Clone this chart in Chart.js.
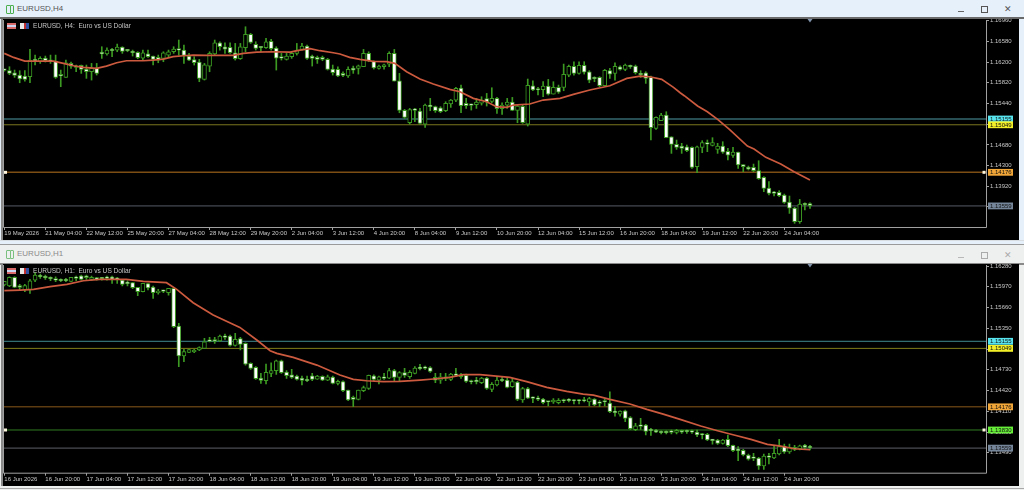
<!DOCTYPE html>
<html><head><meta charset="utf-8">
<script src="https://cdn.jsdelivr.net/npm/chart.js@4"></script>
<style>
html,body{margin:0;padding:0;width:1024px;height:490px;overflow:hidden;background:#e6f0fb;font-family:"Liberation Sans",sans-serif}
.abs{position:absolute}
canvas{position:absolute;display:block;background:#000}
.ttl{position:absolute;font-size:8px;line-height:10px}
.info{position:absolute;font-size:6.6px;line-height:8px;color:#c4c4c4;white-space:pre}
</style></head><body>
<div class="abs" style="left:0;top:0;width:1024px;height:244px;background:#e6f0fb"></div>
<div class="abs" style="left:0;top:17px;width:1024px;height:2px;background:#6a6a6a"></div>
<div class="abs" style="left:0;top:240px;width:1024px;height:1px;background:#d8dde2"></div>
<div class="abs" style="left:0;top:244px;width:1024px;height:246px;background:#eeefef;border-top:1px solid #9a9a9a;box-sizing:border-box"></div>
<div class="abs" style="left:0;top:263px;width:1024px;height:1.5px;background:#8a8a8a"></div>
<div class="abs" style="left:0;top:488px;width:1024px;height:1px;background:#a8a8a8"></div>
<div class="abs" style="left:1px;top:19px;width:2px;height:221px;background:#8a8a8a"></div>
<div class="abs" style="left:1px;top:264px;width:2px;height:222px;background:#8a8a8a"></div>

<canvas id="c1" width="1016" height="221" style="left:3px;top:19px;width:1016px;height:221px"></canvas>
<canvas id="c2" width="1016" height="222" style="left:3px;top:264px;width:1016px;height:222px"></canvas>

<div class="abs" style="left:6px;top:5px;width:2.5px;height:7px;border:1px solid #4cb050;border-radius:1px"></div>
<div class="abs" style="left:10px;top:5px;width:2px;height:7px;border:1px solid #4cb050;border-radius:1px"></div>
<div class="ttl" style="left:17px;top:4px;color:#555">EURUSD,H4</div>
<div class="abs" style="left:6px;top:250px;width:2.5px;height:7px;border:1px solid #7cc080;border-radius:1px"></div>
<div class="abs" style="left:10px;top:250px;width:2px;height:7px;border:1px solid #7cc080;border-radius:1px"></div>
<div class="ttl" style="left:17px;top:249px;color:#8a8a8a">EURUSD,H1</div>

<div class="abs" style="left:958px;top:11px;width:6px;height:1px;background:#666"></div>
<div class="abs" style="left:981px;top:6px;width:5px;height:5px;border:1px solid #555"></div>
<div class="ttl" style="left:1004px;top:4px;color:#555;font-size:9px">✕</div>
<div class="abs" style="left:958px;top:257px;width:6px;height:1px;background:#b8b8b8"></div>
<div class="abs" style="left:981px;top:252px;width:5px;height:5px;border:1px solid #aaa"></div>
<div class="ttl" style="left:1004px;top:250px;color:#aaa;font-size:9px">✕</div>

<div class="abs" style="left:7px;top:23px;width:9px;height:6px;background:linear-gradient(#d86a6a 0 33%,#c8d4f0 33% 66%,#d86a6a 66%)"></div>
<div class="abs" style="left:20px;top:23px;width:9px;height:6px;background:linear-gradient(90deg,#e8e8e8 0 40%,#c03030 40% 70%,#3050a0 70%)"></div>
<div class="info" style="left:33px;top:22px">EURUSD, H4:  Euro vs US Dollar</div>
<div class="abs" style="left:7px;top:268px;width:9px;height:6px;background:linear-gradient(#d86a6a 0 33%,#c8d4f0 33% 66%,#d86a6a 66%)"></div>
<div class="abs" style="left:20px;top:268px;width:9px;height:6px;background:linear-gradient(90deg,#e8e8e8 0 40%,#c03030 40% 70%,#3050a0 70%)"></div>
<div class="info" style="left:33px;top:267px">EURUSD, H1:  Euro vs US Dollar</div>

<script>
// ---- H4 window ----
const h4TickLabels=["19 May 2026","21 May 04:00","22 May 12:00","25 May 20:00","27 May 04:00","28 May 12:00","29 May 20:00","2 Jun 04:00","3 Jun 12:00","4 Jun 20:00","8 Jun 04:00","9 Jun 12:00","10 Jun 20:00","12 Jun 04:00","15 Jun 12:00","16 Jun 20:00","18 Jun 04:00","19 Jun 12:00","22 Jun 20:00","24 Jun 04:00"];
const h4PriceTicks=[1.1696,1.1658,1.162,1.1582,1.1544,1.1506,1.1468,1.143,1.1392,1.1354];
const h4Levels=[1.15155,1.15049,1.14176,1.13559];
const h4High=[1.16072,1.16115,1.16054,1.16042,1.16042,1.16433,1.16329,1.16299,1.16311,1.16329,1.16329,1.16054,1.16237,1.16201,1.16146,1.16146,1.16146,1.16176,1.16176,1.16482,1.16464,1.16452,1.16531,1.16482,1.16433,1.16421,1.16390,1.16421,1.16421,1.16311,1.16329,1.16390,1.16421,1.16482,1.16605,1.16513,1.16360,1.16299,1.16250,1.16176,1.16390,1.16605,1.16574,1.16556,1.16556,1.16543,1.16543,1.16849,1.16727,1.16574,1.16482,1.16635,1.16617,1.16482,1.16360,1.16360,1.16390,1.16543,1.16543,1.16513,1.16329,1.16311,1.16311,1.16268,1.16146,1.16115,1.16023,1.16115,1.16127,1.16146,1.16433,1.16390,1.16225,1.16146,1.16164,1.16390,1.16433,1.15993,1.15332,1.15350,1.15350,1.15350,1.15430,1.15534,1.15393,1.15381,1.15472,1.15515,1.15736,1.15778,1.15534,1.15430,1.15534,1.15564,1.15625,1.15729,1.15552,1.15454,1.15534,1.15552,1.15411,1.15411,1.15889,1.15858,1.15736,1.15840,1.15882,1.15840,1.15778,1.16164,1.16146,1.16207,1.16207,1.16207,1.16042,1.15931,1.15931,1.16066,1.16084,1.16188,1.16133,1.16164,1.16146,1.16146,1.16042,1.16023,1.15944,1.15197,1.15258,1.15289,1.14830,1.14769,1.14708,1.14677,1.14646,1.14659,1.14757,1.14769,1.14812,1.14708,1.14738,1.14616,1.14634,1.14548,1.14316,1.14291,1.14328,1.14389,1.14096,1.14004,1.13826,1.13839,1.13777,1.13741,1.13533,1.13679,1.13618,1.13618];
const h4Open=[1.16060,1.16042,1.16005,1.15962,1.15944,1.15931,1.16256,1.16207,1.16274,1.16237,1.16219,1.15974,1.15919,1.16176,1.16133,1.16139,1.16072,1.16023,1.16097,1.16384,1.16348,1.16433,1.16421,1.16476,1.16421,1.16397,1.16378,1.16274,1.16354,1.16311,1.16286,1.16268,1.16329,1.16390,1.16439,1.16421,1.16311,1.16244,1.16201,1.15882,1.16127,1.16348,1.16556,1.16482,1.16470,1.16372,1.16262,1.16464,1.16709,1.16525,1.16476,1.16464,1.16580,1.16458,1.16299,1.16250,1.16299,1.16360,1.16433,1.16494,1.16311,1.16286,1.16286,1.16250,1.16072,1.16066,1.15993,1.15944,1.16091,1.16084,1.16115,1.16360,1.16213,1.16084,1.16115,1.16164,1.16360,1.15858,1.15313,1.15087,1.15332,1.15301,1.15062,1.15405,1.15381,1.15362,1.15307,1.15430,1.15503,1.15723,1.15442,1.15423,1.15417,1.15448,1.15528,1.15478,1.15534,1.15344,1.15411,1.15466,1.15313,1.15387,1.15062,1.15766,1.15711,1.15693,1.15760,1.15613,1.15736,1.15736,1.15962,1.16121,1.15993,1.16139,1.16023,1.15919,1.15919,1.15766,1.16042,1.15993,1.16115,1.16066,1.16139,1.16127,1.15980,1.16005,1.15919,1.14983,1.15124,1.15228,1.14830,1.14689,1.14659,1.14646,1.14634,1.14279,1.14634,1.14720,1.14671,1.14597,1.14659,1.14561,1.14487,1.14548,1.14316,1.14273,1.14267,1.14206,1.14083,1.13887,1.13814,1.13808,1.13759,1.13630,1.13520,1.13269,1.13606,1.13600];
const h4Close=[1.16048,1.15993,1.15956,1.15889,1.15882,1.16237,1.16219,1.16268,1.16225,1.16213,1.15919,1.15944,1.16188,1.16127,1.16103,1.16066,1.16023,1.16084,1.15993,1.16348,1.16421,1.16409,1.16476,1.16397,1.16409,1.16372,1.16280,1.16372,1.16299,1.16250,1.16237,1.16372,1.16390,1.16439,1.16421,1.16323,1.16237,1.16188,1.15901,1.16152,1.16360,1.16556,1.16482,1.16439,1.16372,1.16262,1.16482,1.16709,1.16562,1.16452,1.16464,1.16574,1.16446,1.16274,1.16274,1.16311,1.16360,1.16421,1.16494,1.16268,1.16268,1.16250,1.16250,1.16066,1.16005,1.15944,1.15956,1.16066,1.16054,1.16133,1.16360,1.16225,1.16091,1.16127,1.16152,1.16360,1.15852,1.15313,1.15185,1.15326,1.15313,1.15075,1.15411,1.15381,1.15307,1.15289,1.15442,1.15503,1.15717,1.15399,1.15399,1.15405,1.15466,1.15503,1.15466,1.15534,1.15344,1.15411,1.15466,1.15313,1.15393,1.15087,1.15772,1.15687,1.15687,1.15760,1.15613,1.15736,1.15650,1.15974,1.16121,1.15993,1.16139,1.16017,1.15870,1.15895,1.15766,1.16048,1.15980,1.16121,1.16066,1.16146,1.16115,1.16005,1.15968,1.15901,1.14995,1.15185,1.15228,1.14811,1.14689,1.14634,1.14616,1.14573,1.14267,1.14646,1.14720,1.14695,1.14720,1.14659,1.14548,1.14493,1.14548,1.14310,1.14279,1.14236,1.14206,1.14059,1.13881,1.13790,1.13790,1.13747,1.13624,1.13520,1.13269,1.13594,1.13581,1.13563];
const h4Low=[1.16035,1.15968,1.15919,1.15821,1.15852,1.15821,1.16146,1.16176,1.16201,1.16176,1.15901,1.15748,1.15919,1.16084,1.16023,1.15993,1.15901,1.15870,1.15962,1.16268,1.16329,1.16299,1.16390,1.16360,1.16390,1.16311,1.16262,1.16237,1.16286,1.16146,1.16188,1.16207,1.16286,1.16360,1.16329,1.16176,1.16225,1.16146,1.15840,1.15870,1.16023,1.16329,1.16421,1.16360,1.16360,1.16237,1.16250,1.16390,1.16543,1.16421,1.16390,1.16452,1.16421,1.16054,1.16237,1.16237,1.16268,1.16329,1.16421,1.16250,1.16127,1.16176,1.16225,1.16054,1.15962,1.15931,1.15931,1.15919,1.15993,1.15980,1.16115,1.16207,1.16072,1.16072,1.16072,1.16115,1.15852,1.15270,1.15166,1.15062,1.15105,1.15062,1.15001,1.15307,1.15277,1.15270,1.15289,1.15368,1.15472,1.15270,1.15350,1.15319,1.15350,1.15411,1.15393,1.15454,1.15258,1.15240,1.15350,1.15307,1.15087,1.15075,1.15026,1.15674,1.15595,1.15564,1.15595,1.15613,1.15625,1.15674,1.15931,1.15962,1.15980,1.15980,1.15821,1.15840,1.15748,1.15760,1.15901,1.15870,1.16054,1.16042,1.16084,1.15980,1.15919,1.15809,1.14769,1.14964,1.15124,1.14811,1.14524,1.14597,1.14524,1.14555,1.14249,1.14169,1.14536,1.14555,1.14659,1.14524,1.14524,1.14402,1.14451,1.14249,1.14187,1.14218,1.14187,1.14047,1.13820,1.13759,1.13741,1.13728,1.13606,1.13422,1.13239,1.13239,1.13484,1.13514];
const h4MaIndex=[0,1.8,4,7.6,9.6,11.5,13.5,15.4,18,19.9,21.9,23.8,27.1,29,31,32.9,34.9,36.8,39.4,42,44.6,46.6,49.2,52.4,55.7,57.6,59.6,61.5,64.1,65.4,67.3,69.3,71.9,74.5,76.1,78.4,81,83.6,86.8,88.8,91.4,94,95.9,97.9,99.2,102.4,105,108.3,110.9,114.1,118,121.3,123.9,125.8,128.1,130.4,131.7,132.5,135.1,137,139,141.3,144.8,146.1,148.4,151.3,153.9,157];
const h4MaValue=[1.16360,1.16286,1.16219,1.16219,1.16219,1.16176,1.16133,1.16103,1.16084,1.16127,1.16188,1.16225,1.16225,1.16237,1.16256,1.16299,1.16317,1.16329,1.16323,1.16323,1.16323,1.16360,1.16384,1.16390,1.16384,1.16421,1.16446,1.16409,1.16372,1.16348,1.16286,1.16250,1.16213,1.16207,1.16176,1.16023,1.15889,1.15797,1.15699,1.15656,1.15534,1.15472,1.15381,1.15368,1.15411,1.15430,1.15503,1.15534,1.15607,1.15687,1.15766,1.15901,1.15944,1.15931,1.15882,1.15736,1.15638,1.15583,1.15393,1.15289,1.15148,1.14964,1.14659,1.14604,1.14451,1.14328,1.14187,1.14034];

// ---- H1 window ----
const h1TickLabels=["16 Jun 2026","16 Jun 20:00","17 Jun 04:00","17 Jun 12:00","17 Jun 20:00","18 Jun 04:00","18 Jun 12:00","18 Jun 20:00","19 Jun 04:00","19 Jun 12:00","19 Jun 20:00","22 Jun 04:00","22 Jun 12:00","22 Jun 20:00","23 Jun 04:00","23 Jun 12:00","23 Jun 20:00","24 Jun 04:00","24 Jun 12:00","24 Jun 20:00"];
const h1PriceTicks=[1.1628,1.1597,1.1566,1.1535,1.1504,1.1473,1.1442,1.1411,1.138,1.1349];
const h1Levels=[1.15155,1.15049,1.14176,1.1383,1.13559];
const h1High=[1.16050,1.16120,1.16120,1.16006,1.16006,1.16080,1.16180,1.16160,1.16145,1.16120,1.16120,1.16090,1.16095,1.16110,1.16130,1.16145,1.16145,1.16130,1.16110,1.16110,1.16130,1.16130,1.16110,1.16080,1.16060,1.16031,1.15961,1.16021,1.16021,1.15981,1.15931,1.15921,1.15946,1.15946,1.15423,1.15035,1.15035,1.15035,1.15074,1.15199,1.15214,1.15214,1.15249,1.15264,1.15249,1.15274,1.15214,1.15134,1.14835,1.14776,1.14676,1.14815,1.14835,1.14875,1.14875,1.14716,1.14736,1.14651,1.14636,1.14636,1.14676,1.14646,1.14641,1.14651,1.14636,1.14576,1.14566,1.14427,1.14337,1.14427,1.14487,1.14651,1.14656,1.14636,1.14676,1.14751,1.14736,1.14701,1.14751,1.14716,1.14776,1.14810,1.14786,1.14776,1.14676,1.14676,1.14676,1.14676,1.14751,1.14676,1.14666,1.14576,1.14616,1.14616,1.14616,1.14537,1.14616,1.14616,1.14601,1.14601,1.14557,1.14467,1.14467,1.14327,1.14337,1.14302,1.14258,1.14298,1.14298,1.14293,1.14298,1.14288,1.14288,1.14317,1.14317,1.14298,1.14268,1.14288,1.14402,1.14178,1.14118,1.14128,1.14029,1.13929,1.14004,1.13914,1.13854,1.13839,1.13819,1.13819,1.13829,1.13839,1.13829,1.13829,1.13829,1.13829,1.13780,1.13780,1.13690,1.13690,1.13690,1.13755,1.13605,1.13581,1.13541,1.13471,1.13481,1.13421,1.13471,1.13481,1.13590,1.13690,1.13620,1.13620,1.13600,1.13605,1.13615,1.13600];
const h1Open=[1.15996,1.15981,1.16110,1.15986,1.15921,1.15921,1.16070,1.16130,1.16120,1.16100,1.16080,1.16070,1.16070,1.16050,1.16105,1.16135,1.16135,1.16080,1.16105,1.16105,1.16105,1.16120,1.16100,1.16070,1.16035,1.16031,1.15961,1.15896,1.16016,1.15966,1.15881,1.15911,1.15881,1.15946,1.15383,1.14935,1.14990,1.14995,1.15025,1.15050,1.15174,1.15179,1.15159,1.15229,1.15234,1.15094,1.15194,1.15124,1.14825,1.14766,1.14606,1.14566,1.14676,1.14716,1.14865,1.14696,1.14656,1.14636,1.14606,1.14586,1.14641,1.14591,1.14631,1.14576,1.14621,1.14527,1.14552,1.14427,1.14317,1.14288,1.14417,1.14452,1.14641,1.14576,1.14621,1.14606,1.14716,1.14616,1.14686,1.14626,1.14676,1.14766,1.14771,1.14761,1.14616,1.14576,1.14626,1.14586,1.14666,1.14656,1.14646,1.14561,1.14566,1.14537,1.14606,1.14437,1.14502,1.14586,1.14576,1.14477,1.14547,1.14278,1.14447,1.14317,1.14307,1.14292,1.14258,1.14248,1.14238,1.14278,1.14278,1.14273,1.14278,1.14278,1.14248,1.14293,1.14243,1.14263,1.14233,1.14113,1.14068,1.14118,1.14014,1.13834,1.13904,1.13904,1.13839,1.13829,1.13799,1.13799,1.13809,1.13794,1.13824,1.13824,1.13819,1.13799,1.13770,1.13765,1.13690,1.13680,1.13630,1.13690,1.13600,1.13541,1.13526,1.13456,1.13421,1.13411,1.13292,1.13441,1.13411,1.13471,1.13590,1.13501,1.13570,1.13546,1.13605,1.13581];
const h1Close=[1.16050,1.16110,1.15961,1.15961,1.15986,1.16060,1.16145,1.16120,1.16105,1.16090,1.16070,1.16060,1.16060,1.16110,1.16095,1.16080,1.16105,1.16110,1.16085,1.16090,1.16095,1.16080,1.16080,1.16006,1.16016,1.15956,1.15896,1.16021,1.15951,1.15881,1.15906,1.15901,1.15946,1.15373,1.14935,1.15000,1.15030,1.15025,1.15060,1.15149,1.15154,1.15154,1.15234,1.15214,1.15094,1.15184,1.15109,1.14815,1.14751,1.14596,1.14571,1.14691,1.14716,1.14865,1.14686,1.14641,1.14616,1.14586,1.14571,1.14566,1.14586,1.14636,1.14576,1.14626,1.14527,1.14557,1.14417,1.14278,1.14288,1.14427,1.14462,1.14646,1.14586,1.14626,1.14601,1.14716,1.14616,1.14686,1.14646,1.14691,1.14756,1.14746,1.14751,1.14706,1.14576,1.14626,1.14601,1.14666,1.14646,1.14626,1.14557,1.14547,1.14552,1.14606,1.14452,1.14512,1.14576,1.14566,1.14467,1.14552,1.14288,1.14447,1.14307,1.14302,1.14288,1.14238,1.14248,1.14278,1.14273,1.14263,1.14268,1.14263,1.14263,1.14263,1.14298,1.14203,1.14228,1.14248,1.14103,1.14088,1.14113,1.14004,1.13849,1.13894,1.13884,1.13809,1.13819,1.13799,1.13789,1.13789,1.13794,1.13824,1.13799,1.13804,1.13799,1.13755,1.13755,1.13680,1.13670,1.13630,1.13680,1.13595,1.13521,1.13521,1.13456,1.13396,1.13406,1.13292,1.13441,1.13421,1.13481,1.13581,1.13501,1.13570,1.13541,1.13595,1.13570,1.13565];
const h1Low=[1.15981,1.15971,1.15956,1.15921,1.15896,1.15871,1.16045,1.16095,1.16080,1.16060,1.16045,1.16045,1.16045,1.16045,1.16060,1.16070,1.16080,1.16070,1.16070,1.16070,1.16070,1.16021,1.16021,1.15981,1.15981,1.15941,1.15836,1.15891,1.15921,1.15796,1.15861,1.15881,1.15846,1.15358,1.14776,1.14850,1.14985,1.14985,1.15015,1.15050,1.15144,1.15124,1.15149,1.15184,1.15084,1.15084,1.15025,1.14800,1.14736,1.14586,1.14527,1.14517,1.14626,1.14661,1.14676,1.14601,1.14601,1.14576,1.14502,1.14551,1.14566,1.14586,1.14566,1.14566,1.14517,1.14502,1.14402,1.14268,1.14178,1.14278,1.14402,1.14437,1.14566,1.14517,1.14586,1.14596,1.14552,1.14552,1.14616,1.14601,1.14666,1.14726,1.14736,1.14691,1.14537,1.14527,1.14566,1.14566,1.14626,1.14601,1.14542,1.14517,1.14517,1.14522,1.14437,1.14402,1.14487,1.14552,1.14457,1.14467,1.14268,1.14243,1.14297,1.14238,1.14268,1.14218,1.14188,1.14228,1.14218,1.14238,1.14248,1.14218,1.14218,1.14248,1.14188,1.14193,1.14178,1.14188,1.14088,1.14038,1.14038,1.13954,1.13839,1.13819,1.13839,1.13755,1.13750,1.13789,1.13770,1.13770,1.13770,1.13770,1.13780,1.13780,1.13780,1.13730,1.13695,1.13670,1.13620,1.13615,1.13620,1.13581,1.13506,1.13371,1.13441,1.13381,1.13371,1.13242,1.13242,1.13322,1.13401,1.13456,1.13481,1.13481,1.13521,1.13531,1.13541,1.13531];
const h1MaIndex=[0,3.1,5.7,8.9,12.2,15.4,18.6,23.8,27.1,31.6,33.6,36.8,40.7,45.9,49.2,51.8,53.1,56.3,60.9,65.4,68,70.6,73.8,77.1,81,84.2,86.8,89.4,92.7,95.9,98.5,101.8,105.7,109.6,112.8,114.8,118,121.9,125.2,128.4,131.7,135.7,139,142.2,145.5,148.7,151.3,153.9,157];
const h1MaValue=[1.15911,1.15921,1.15931,1.15971,1.16006,1.16060,1.16080,1.16080,1.16050,1.16031,1.15931,1.15732,1.15548,1.15363,1.15174,1.15015,1.14975,1.14915,1.14800,1.14651,1.14586,1.14566,1.14552,1.14557,1.14576,1.14596,1.14616,1.14656,1.14656,1.14636,1.14616,1.14552,1.14467,1.14407,1.14367,1.14352,1.14288,1.14218,1.14138,1.14068,1.13989,1.13889,1.13819,1.13755,1.13690,1.13615,1.13590,1.13550,1.13535];

const TICK_EVERY=8, X_MIN=-0.06, X_MAX=191.3;
const FONT={family:'"Liberation Sans",sans-serif',size:6};
const GREEN='#3c9a22', BODY_UP='#000000', BODY_DOWN='#ffffff';

function draw(id,o){
  const n=o.open.length;
  const bodies=o.open.map((v,i)=>({x:i,y:[v,o.close[i]]}));
  const wicks=o.high.map((v,i)=>({x:i,y:[o.low[i],v]}));
  const levelSets=o.levels.map((v,k)=>({type:'line',data:[{x:X_MIN,y:v},{x:X_MAX,y:v}],
      borderColor:o.lineColors[k],borderWidth:o.lineWidths[k],pointRadius:0,order:4}));
  const ma=o.maIndex.map((v,i)=>({x:v,y:o.maValue[i]}));
  new Chart(document.getElementById(id),{
    type:'bar',
    data:{datasets:[
      {type:'line',data:ma,borderColor:'#cc5a3e',borderWidth:1.7,pointRadius:0,tension:0,order:0},
      {data:bodies,grouped:false,barThickness:4,borderWidth:1,borderSkipped:false,minBarLength:1.5,
       borderColor:GREEN,backgroundColor:bodies.map((b,i)=>o.close[i]>=o.open[i]?BODY_UP:BODY_DOWN),order:1},
      {data:wicks,grouped:false,barThickness:1,borderWidth:0,backgroundColor:GREEN,order:2},
      ...levelSets
    ]},
    options:{
      responsive:false,animation:false,devicePixelRatio:1,
      layout:{autoPadding:false,padding:{left:1,top:1,right:0,bottom:0}},
      plugins:{legend:{display:false},tooltip:{enabled:false},title:{display:false}},
      scales:{
        x:{type:'linear',min:X_MIN,max:X_MAX,offset:false,bounds:'data',
          grid:{offset:false,drawOnChartArea:false,drawTicks:true,tickLength:3,color:'#a0a0a0'},
          border:{display:false},
          afterBuildTicks:s=>{s.ticks=o.tickLabels.map((_,k)=>({value:k*TICK_EVERY}));},
          afterFit:s=>{s.height=o.axisHeight;s.paddingLeft=0;s.paddingRight=0;},
          ticks:{autoSkip:false,maxRotation:0,minRotation:0,align:'start',padding:0,color:'#c8c8c8',font:FONT,
            callback:v=>o.tickLabels[Math.round(v/TICK_EVERY)]}},
        y:{type:'linear',position:'right',min:o.yMin,max:o.yMax,beginAtZero:false,bounds:'data',
          grid:{drawOnChartArea:false,drawTicks:true,tickLength:3,color:'#a0a0a0'},
          border:{display:false},
          afterBuildTicks:s=>{s.ticks=o.priceTicks.map(v=>({value:v}));},
          afterFit:s=>{s.width=33;s.paddingTop=0;s.paddingBottom=0;},
          ticks:{autoSkip:false,padding:1,color:'#c8c8c8',font:FONT,callback:v=>v.toFixed(5)}}
      }
    },
    plugins:[{id:'frame',afterDraw(c){
      const g=c.ctx,a=c.chartArea,x=c.scales.x,y=c.scales.y;
      g.save();
      g.strokeStyle='#a0a0a0';g.lineWidth=1;
      g.beginPath();
      g.moveTo(a.left-.5,a.top);g.lineTo(a.left-.5,a.bottom+.5);
      g.lineTo(a.right+.5,a.bottom+.5);g.lineTo(a.right+.5,a.top);
      g.stroke();
      const tx=x.getPixelForValue(n-1);
      g.fillStyle='#8294ac';g.beginPath();g.moveTo(tx-2.5,a.top-1);g.lineTo(tx+2.5,a.top-1);g.lineTo(tx,a.top+2.5);g.fill();
      o.levels.forEach((v,k)=>{
        const py=y.getPixelForValue(v);
        g.fillStyle=o.tagColors[k];
        g.fillRect(a.right+2,py-3.4,25,6.8);
        g.fillStyle='#101010';g.font='6px "Liberation Sans",sans-serif';g.textBaseline='middle';g.textAlign='left';
        g.fillText(v.toFixed(5),a.right+4,py+.2);
        if(o.handles.includes(k)){
          g.fillStyle='#fff6e0';
          g.fillRect(a.left,py-1.5,3,3);
          g.fillRect(a.right-3.5,py-1.5,3,3);
        }
      });
      g.restore();
    }}]
  });
}
draw('c1',{open:h4Open,high:h4High,low:h4Low,close:h4Close,maIndex:h4MaIndex,maValue:h4MaValue,
  tickLabels:h4TickLabels,priceTicks:h4PriceTicks,levels:h4Levels,yMin:1.13172,yMax:1.16973,axisHeight:13,
  lineColors:['#4f9ea6','#7a761e','#7d4e14','#565b66'],lineWidths:[1,1,1.5,1],
  tagColors:['#58e4ee','#f2ee28','#f0a638','#76869a'],handles:[2]});
draw('c2',{open:h1Open,high:h1High,low:h1Low,close:h1Close,maIndex:h1MaIndex,maValue:h1MaValue,
  tickLabels:h1TickLabels,priceTicks:h1PriceTicks,levels:h1Levels,yMin:1.13192,yMax:1.16295,axisHeight:13.3,
  lineColors:['#3f8a8f','#807c18','#8a5a1a','#2f7d1f','#4a4d55'],lineWidths:[1,1,1,1,1.2],
  tagColors:['#58e4ee','#f2ee28','#f0a638','#66ee38','#76869a'],handles:[3]});
</script>
</body></html>
